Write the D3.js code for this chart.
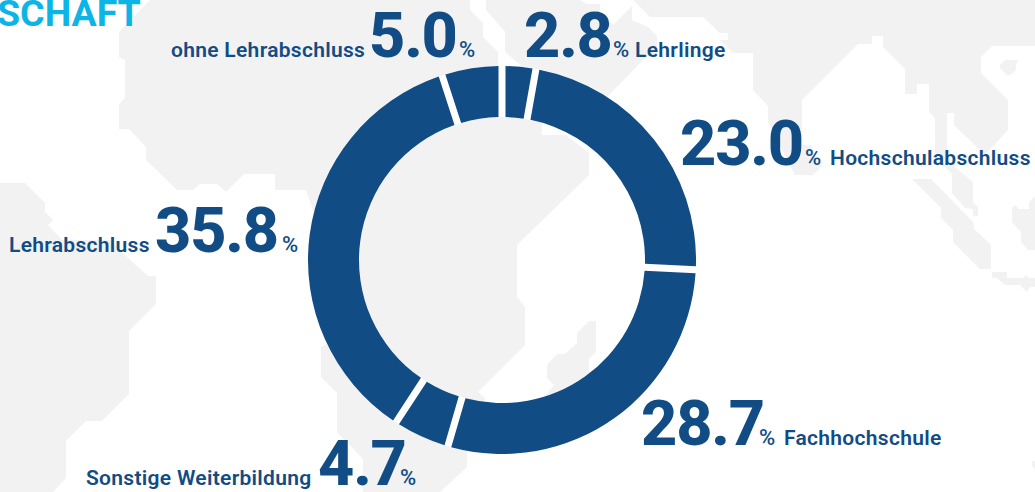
<!DOCTYPE html>
<html>
<head>
<meta charset="utf-8">
<style>
  html, body { margin: 0; padding: 0; background: #fff; overflow: hidden; }
  svg { display: block; }
  text { font-family: Roboto, sans-serif; fill: #124c84; }
  .num { font-size: 63px; font-weight: 800; letter-spacing: -1.2px; }
  .pct { font-size: 22px; font-weight: 500; }
  .name { font-size: 21px; font-weight: 600; letter-spacing: 0.3px; }
  .title { font-size: 37.5px; font-weight: 700; fill: #0db4e6; }
</style>
<script src="https://cdn.jsdelivr.net/npm/d3@7"></script>
</head>
<body>
<div class="chart"></div>
<script>
const width = 1035;
const height = 492;

// chart values, clockwise from the top
const categories = ['Lehrlinge', 'Hochschulabschluss', 'Fachhochschule', 'Sonstige Weiterbildung', 'Lehrabschluss', 'ohne Lehrabschluss'];
const shares = [2.8, 23.0, 28.7, 4.7, 35.8, 5.0];

// where each label sits: left edges of number, percent sign and name, plus baseline
const numX = [524, 680, 641, 318, 155, 369];
const pctX = [613, 805, 759, 400, 282, 459];
const nameX = [635, 830, 784, 86, 9, 171];
const baseY = [57, 165, 445, 485, 252, 57];

// grey world map behind the chart
const mapShapes = [
    'M150,0L119,32V57L125,60V98L119,104V129H129L146,147V160L177,190H193L200,184H217L226,192L244,174H275V190H306L330,260L335,340L321,347V377L337,393V432L363,459V492H440L467,467V450L485,398L478,392L525,345V307L517,297V245L589,175V153L566,135H542V120L590,110L607,97L646,57L657,53V36L648,27L632,20V6L613,25L600,12V4H587L580,0H486V10L505,32V52L523,67V72H498V52L483,37V23L470,10V0Z',
    'M633,0L650,17H703L720,33H728V40H720L733,53H753V90L768,106V122L795,175H813L822,166L812,155V145H802V100L858,44H872V36H883V47L905,69V94H917V84H929V112L935,118V157L945,167L952,174V193L965,208L973,209V216H978V207L973,202V182L955,167L947,155V113H954V125L985,155L1008,130V100L981,73V57L992,46H1035V0ZM1000,65L1005,60H1018L1016,65V70L1010,75H1007L1000,68Z',
    'M912,179H931L973,222L974,229L991,245V269H980L953,242V230L941,218V208Z',
    'M992,272H1007V278H1023L1026,275L1029,278H1035V287H1030L1027,292L1020,285H1005L997,278H992Z',
    'M1012,208L1015,205L1019,209H1029V202L1035,196V250H1028L1021,242V232L1012,222Z',
    'M0,183H25L45,203V212L53,220L48,225L62,240H110L125,255L148,276H156V304L129,331V394L102,421H86L66,441V478L53,492H0Z',
    'M547,365L557,354H565L577,343V333L589,321H596V352L589,358V375L575,400L545,396L554,385L547,378Z',
    'M1032,461H1035V470L1032,466Z'
];

const cx = 502;
const cy = 260;
const outerR = 194;
const innerR = 143;
const gap = 7;

const svg = d3.select('.chart').append('svg')
    .attr('width', width)
    .attr('height', height)
    .attr('viewBox', `0 0 ${width} ${height}`);

svg.append('g').selectAll('path')
    .data(mapShapes)
    .enter()
    .append('path')
    .attr('d', (d) => d)
    .attr('fill', '#f2f2f2')
    .attr('fill-rule', 'evenodd');

svg.append('text')
    .attr('class', 'title')
    .attr('x', -3)
    .attr('y', 26)
    .text('SCHAFT');

/*      Build the ring      */
const ring = svg.append('g').attr('transform', `translate(${cx}, ${cy})`);
const pie = d3.pie().sort(null);
const arc = d3.arc()
    .innerRadius(innerR)
    .outerRadius(outerR)
    .padRadius(outerR)
    .padAngle(gap / outerR);

// the gaps between the slices are white even over the grey map
ring.append('path')
    .attr('d', d3.arc().innerRadius(innerR).outerRadius(outerR)({ startAngle: 0, endAngle: 2 * Math.PI }))
    .attr('fill', '#fff');

ring.selectAll('path.slice')
    .data(pie(shares))
    .enter()
    .append('path')
    .attr('class', 'slice')
    .attr('d', arc)
    .attr('fill', '#124c84');

/*      Labels      */
const labels = svg.append('g').selectAll('g')
    .data(categories)
    .enter()
    .append('g');
labels.append('text')
    .attr('class', 'num')
    .attr('x', (d, i) => numX[i])
    .attr('y', (d, i) => baseY[i])
    .text((d, i) => shares[i].toFixed(1));
labels.append('text')
    .attr('class', 'pct')
    .attr('x', (d, i) => pctX[i])
    .attr('y', (d, i) => baseY[i])
    .text('%');
labels.append('text')
    .attr('class', 'name')
    .attr('x', (d, i) => nameX[i])
    .attr('y', (d, i) => baseY[i])
    .text((d) => d);
</script>
</body>
</html>
